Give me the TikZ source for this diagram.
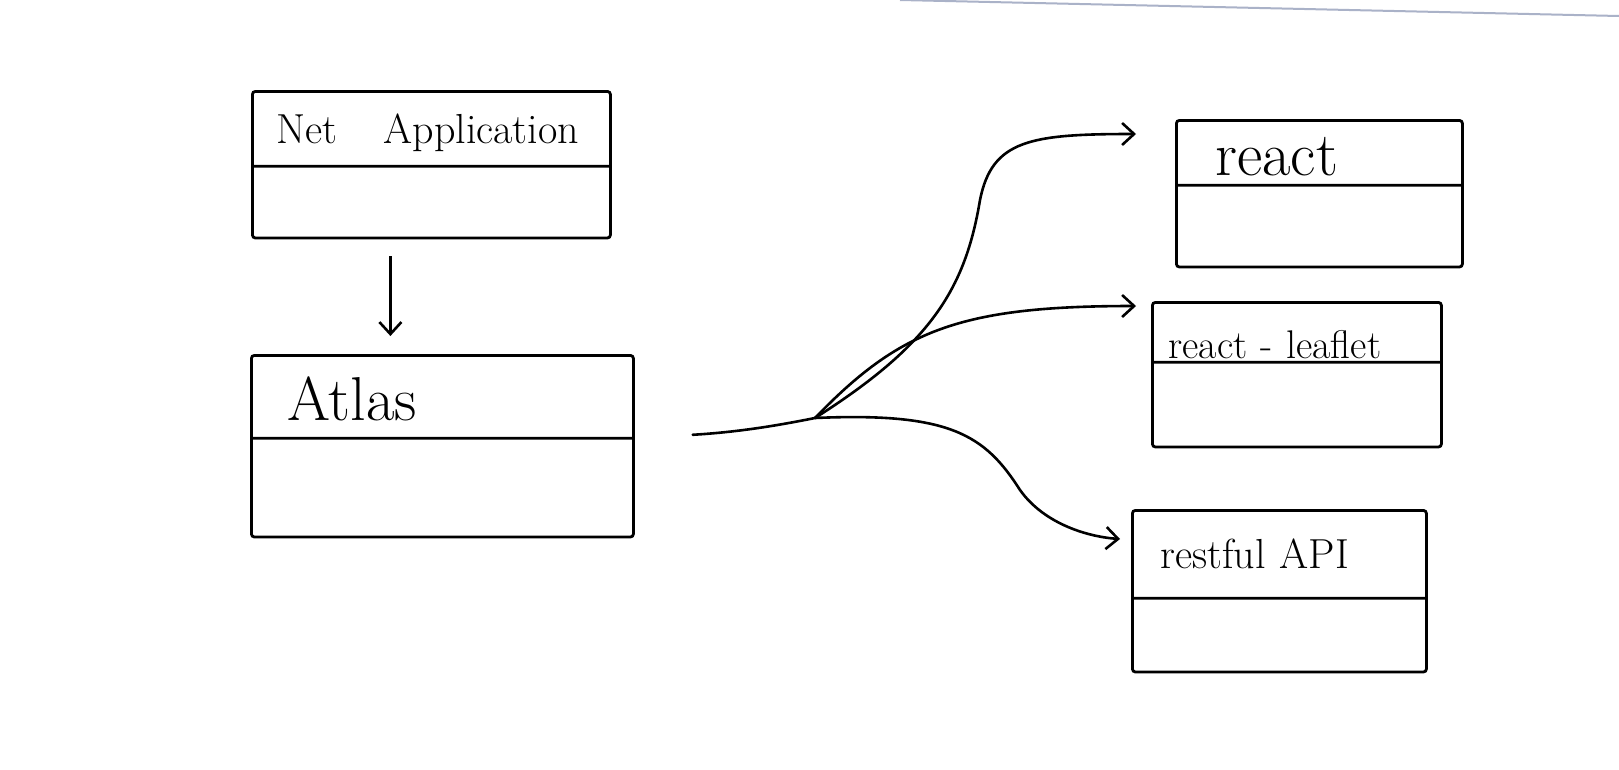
\documentclass[tikz,border=0pt]{standalone}
\usepackage{fontspec}
\usetikzlibrary{shapes.multipart,arrows.meta}
\tikzset{
  classbox/.style={rectangle split, rectangle split parts=2, draw, line width=2.8pt,
    rounded corners=3pt, inner xsep=24pt, inner ysep=0pt, align=left, anchor=north west},
  sketcharrow/.style={line width=2.6pt,
    -{Straight Barb[length=12pt,width=22pt,line width=2.6pt]}},
}
\newcommand{\partstrut}[2]{\rule[-#2pt]{0pt}{#1pt}}
\begin{document}
\begin{tikzpicture}[x=1pt,y=-1pt]
  \useasboundingbox[fill=white] (0,0) rectangle (1619,769);
  \draw[line width=2pt, color={rgb,255:red,170;green,178;blue,200}] (900,0) -- (1619,16);

  \node[classbox, text width=310pt, font=\fontsize{42}{46}\selectfont] (net) at (251,90)
    {\partstrut{72}{21}\mbox{Net\hspace{1.1em}Application}
     \nodepart{two}\partstrut{69}{0}};
  \node[classbox, text width=334pt, font=\fontsize{62}{66}\selectfont] (atlas) at (250,354)
    {\partstrut{80}{16}\hspace*{12pt}Atlas
     \nodepart{two}\partstrut{96}{0}};
  \node[classbox, text width=238pt, font=\fontsize{62}{66}\selectfont] (react) at (1175,119)
    {\partstrut{62}{8}\hspace*{15pt}react
     \nodepart{two}\partstrut{79}{0}};
  \node[classbox, text width=241pt, font=\fontsize{40}{44}\selectfont] (leaflet) at (1151,301)
    {\partstrut{57}{2}\hspace*{-8pt}react - leaflet
     \nodepart{two}\partstrut{82}{0}};
  \node[classbox, text width=246pt, font=\fontsize{42}{46}\selectfont] (restful) at (1131,509)
    {\partstrut{85}{28}\hspace*{4pt}restful API
     \nodepart{two}\partstrut{71}{0}};

  % Net Application down to Atlas
  \draw[sketcharrow, shorten <=17pt, shorten >=18pt]
    ([xshift=-41pt]net.south) -- ([xshift=-41pt]net.south |- atlas.north);

  % Atlas out to the three libraries
  \coordinate (fork) at (815,418);
  \draw[line width=2.6pt, line cap=round, shorten <=58pt]
    (atlas.text split east) .. controls (740,432) and (780,425) .. (fork);
  \draw[sketcharrow] (fork) .. controls (930,345) and (965,290) .. (980,200)
    .. controls (992,140) and (1030,134) .. ([xshift=-39pt,yshift=-15pt]react.north west);
  \draw[sketcharrow] (fork) .. controls (900,330) and (960,306)
    .. ([xshift=-15pt,yshift=-5pt]leaflet.north west);
  \draw[sketcharrow] (fork) .. controls (950,412) and (985,435) .. (1020,490)
    .. controls (1045,525) and (1090,537) .. ([xshift=-11pt,yshift=-30pt]restful.north west);
\end{tikzpicture}
\end{document}
